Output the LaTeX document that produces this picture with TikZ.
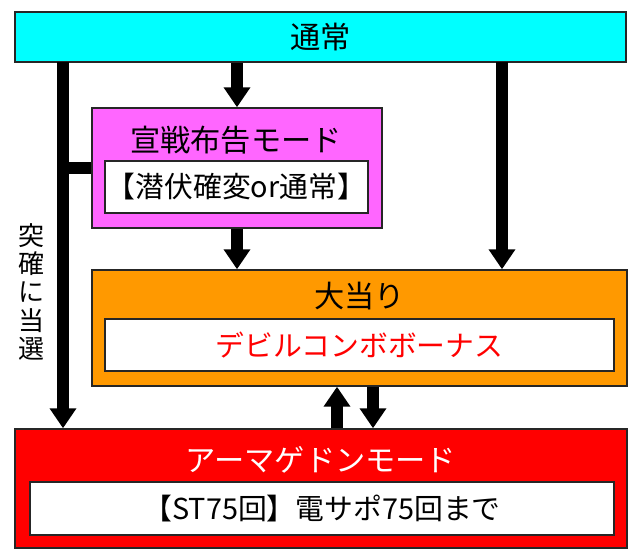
\documentclass[tikz,border=0pt]{standalone}
\usepackage{fontspec}
\setmainfont{Noto Sans CJK JP}
\usetikzlibrary{arrows.meta}
\definecolor{tsujo}{HTML}{00FFFF}
\definecolor{sensen}{HTML}{FF66FF}
\definecolor{oatari}{HTML}{FF9900}
\definecolor{armage}{HTML}{FF0000}

\begin{document}
\begin{tikzpicture}[x=0.025cm,y=0.025cm,
  box/.style={draw=black!85,line width=1pt,inner sep=0pt},
  title/.style={font=\fontsize{21.5}{25}\selectfont},
  body/.style={font=\fontsize{20.5}{24}\selectfont},
  bigarrow/.style={line width=0.3cm,-{Triangle[width=0.64cm,length=0.5cm]}}]
  \useasboundingbox (0,0) rectangle (640,559);

  % boxes
  \node[box,fill=tsujo,minimum width=15.275cm,minimum height=1.25cm] (top) at (320.5,522) {};
  \node[title] (topt) at (top) {通常};

  \node[box,fill=sensen,minimum width=7.25cm,minimum height=3cm] (sen) at (237,391) {};
  \node[title] (sent) at (236,419) {宣戦布告モード};
  \node[box,fill=white,minimum width=6.575cm,minimum height=1.3cm,body] (senin) at (236.5,372) {【潜伏確変or通常】};

  \node[box,fill=oatari,minimum width=13.375cm,minimum height=2.9cm] (oat) at (359.5,231) {};
  \node[title] (oatt) at (359.5,263) {大当り};
  \node[box,fill=white,minimum width=12.725cm,minimum height=1.3cm,body,text=red] (oatin) at (359.5,214) {デビルコンボボーナス};

  \node[box,fill=armage,minimum width=15.3cm,minimum height=2.975cm] (arm) at (321,70.5) {};
  \node[title,text=white] (armt) at (321,99) {アーマゲドンモード};
  \node[box,fill=white,minimum width=14.6cm,minimum height=1.325cm,body] (armin) at (322,50.5) {【ST75回】電サポ75回まで};

  % arrows
  \coordinate (ldrop) at (63,497);
  \coordinate (rdrop) at (502,497);
  \coordinate (up) at (337,0);
  \coordinate (down) at (373,0);
  \draw[bigarrow] (sen.north |- top.south) -- (sen.north);
  \draw[bigarrow] (sen.south) -- (sen.south |- oat.north);
  \draw[bigarrow] (rdrop) -- (rdrop |- oat.north);
  \draw[bigarrow] (ldrop) -- (ldrop |- arm.north);
  \draw[line width=0.3cm] (ldrop |- sen.west) -- (sen.west);
  \draw[bigarrow] (up |- arm.north) -- (up |- oat.south);
  \draw[bigarrow] (down |- oat.south) -- (down |- arm.north);

  \node[font=\fontsize{18.5}{20.2}\selectfont,align=center] (totsu) at (32,267) {突\\確\\に\\当\\選};
\end{tikzpicture}
\end{document}
